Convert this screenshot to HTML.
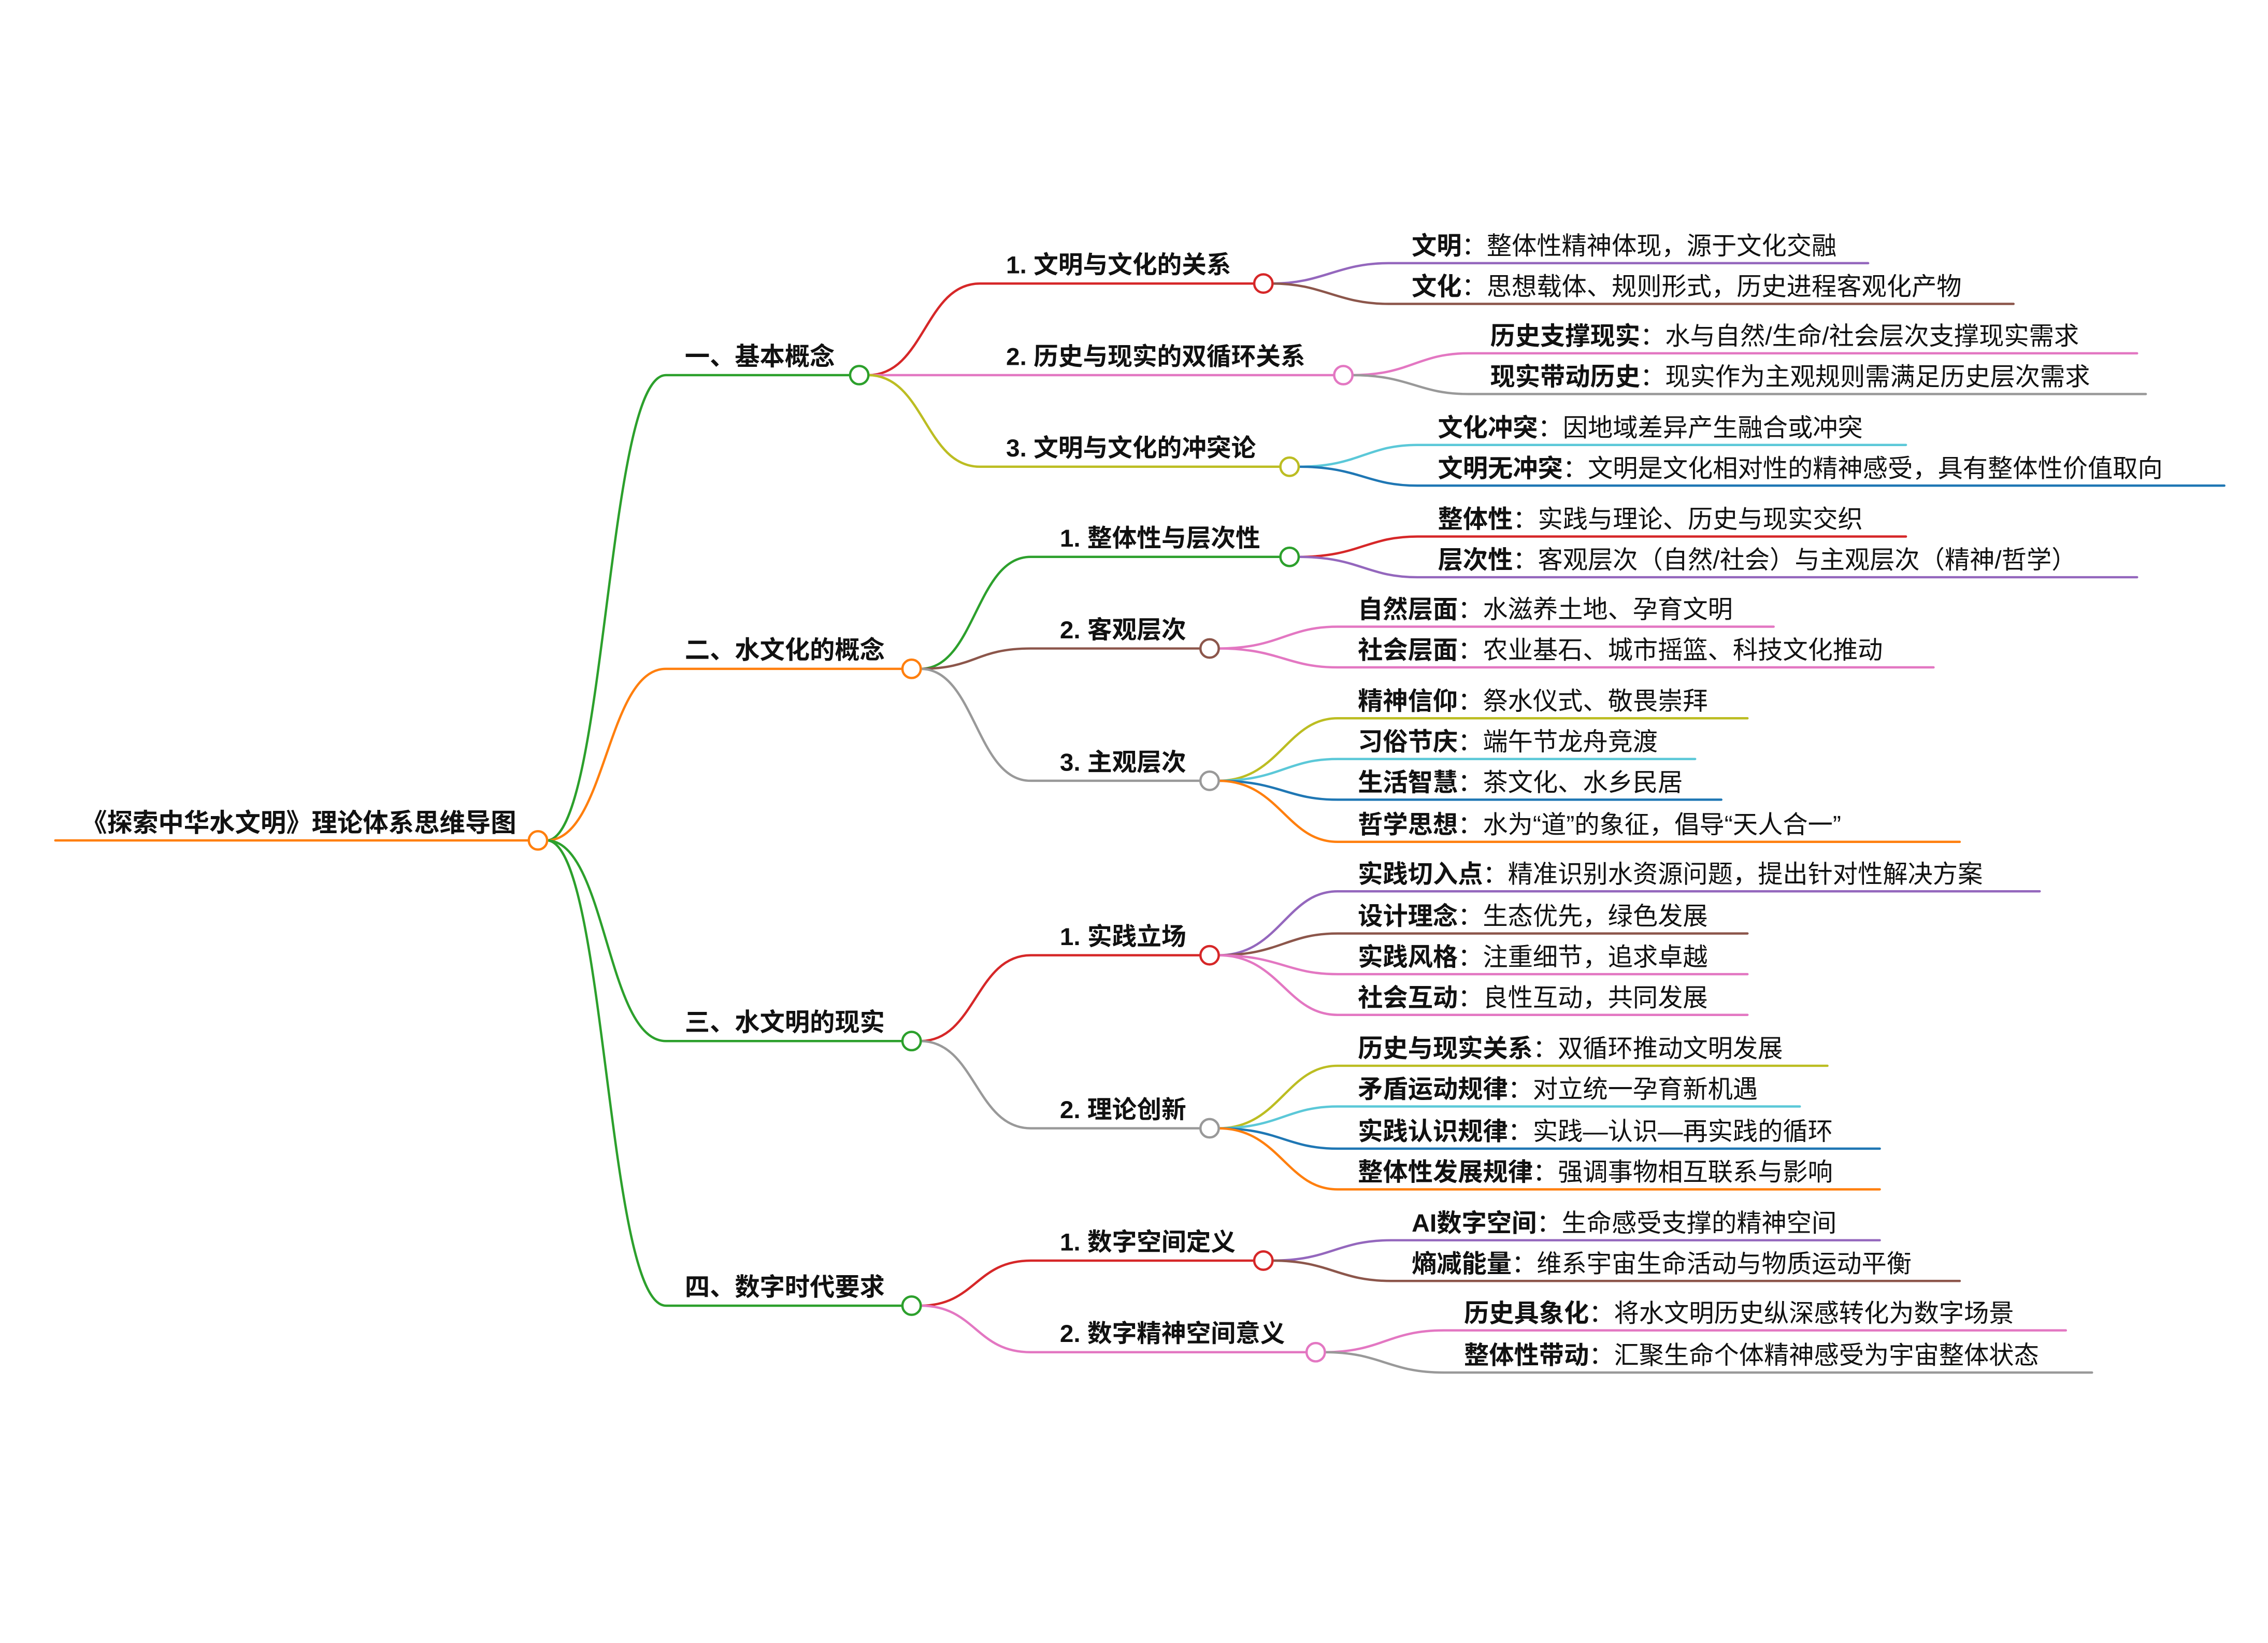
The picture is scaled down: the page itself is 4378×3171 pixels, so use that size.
<!DOCTYPE html>
<html><head><meta charset="utf-8"><style>
html,body{margin:0;padding:0;background:#fff;}
svg{display:block;}
text{font-family:"Liberation Sans","Noto Sans CJK SC",sans-serif;fill:#111;}
.l1{font-size:17.2px;font-weight:bold;}
.l2{font-size:17px;font-weight:bold;}
.lf{font-size:17.2px;}
.lf tspan.k{font-weight:bold;}
path{fill:none;stroke-width:1.6;stroke-linecap:round;}
circle{fill:#fff;stroke-width:1.6;}
</style></head><body>
<svg width="4378" height="3171" viewBox="0 0 1560 1130" xmlns="http://www.w3.org/2000/svg">
<path d="M38 578 H364" stroke="#ff7f0e"/>
<text class="l1" x="56" y="572" style="font-size:17.6px">《探索中华水文明》理论体系思维导图</text>
<path d="M376 578 C417 578 417 258 458 258 H585" stroke="#2ca02c"/>
<path d="M376 578 C417 578 417 460 458 460 H621" stroke="#ff7f0e"/>
<path d="M376 578 C417 578 417 716 458 716 H621" stroke="#2ca02c"/>
<path d="M376 578 C417 578 417 898 458 898 H621" stroke="#2ca02c"/>
<circle cx="370" cy="578" r="6.3" stroke="#ff7f0e"/>
<text class="l1" x="471" y="251">一、基本概念</text>
<text class="l1" x="471" y="453">二、水文化的概念</text>
<text class="l1" x="471" y="709">三、水文明的现实</text>
<text class="l1" x="471" y="891">四、数字时代要求</text>

<path d="M597 258 C636 258 636 195 674 195 H863" stroke="#d62728"/>
<path d="M597 258 H918" stroke="#e377c2"/>
<path d="M597 258 C636 258 636 321 674 321 H881" stroke="#bcbd22"/>
<path d="M633 460 C671 460 671 383 709 383 H881" stroke="#2ca02c"/>
<path d="M633 460 C671 460 671 446 709 446 H826" stroke="#8c564b"/>
<path d="M633 460 C671 460 671 537 709 537 H826" stroke="#999"/>
<path d="M633 716 C671 716 671 657 709 657 H826" stroke="#d62728"/>
<path d="M633 716 C671 716 671 776 709 776 H826" stroke="#999"/>
<path d="M633 898 C671 898 671 867 709 867 H863" stroke="#d62728"/>
<path d="M633 898 C671 898 671 930 709 930 H899" stroke="#e377c2"/>
<circle cx="591" cy="258" r="6.3" stroke="#2ca02c"/>
<circle cx="627" cy="460" r="6.3" stroke="#ff7f0e"/>
<circle cx="627" cy="716" r="6.3" stroke="#2ca02c"/>
<circle cx="627" cy="898" r="6.3" stroke="#2ca02c"/>
<text class="l2" x="692" y="188">1. 文明与文化的关系</text>
<text class="l2" x="692" y="251">2. 历史与现实的双循环关系</text>
<text class="l2" x="692" y="314">3. 文明与文化的冲突论</text>
<text class="l2" x="729" y="376">1. 整体性与层次性</text>
<text class="l2" x="729" y="439">2. 客观层次</text>
<text class="l2" x="729" y="530">3. 主观层次</text>
<text class="l2" x="729" y="650">1. 实践立场</text>
<text class="l2" x="729" y="769">2. 理论创新</text>
<text class="l2" x="729" y="860">1. 数字空间定义</text>
<text class="l2" x="729" y="923">2. 数字精神空间意义</text>

<path d="M875 195 C910 195 920 181 955 181 H1285" stroke="#9467bd"/>
<path d="M875 195 C910 195 920 209 955 209 H1385" stroke="#8c564b"/>
<path d="M930 258 C970 258 975 243 1010 243 H1470" stroke="#e377c2"/>
<path d="M930 258 C970 258 975 271 1010 271 H1476" stroke="#999"/>
<path d="M893 321 C935 321 940 306 975 306 H1311" stroke="#5bc8d8"/>
<path d="M893 321 C935 321 940 334 975 334 H1530" stroke="#1f77b4"/>
<path d="M893 383 C935 383 940 369 975 369 H1311" stroke="#d62728"/>
<path d="M893 383 C935 383 940 397 975 397 H1470" stroke="#9467bd"/>
<path d="M838 446 C880 446 885 431 920 431 H1220" stroke="#e377c2"/>
<path d="M838 446 C880 446 885 459 920 459 H1330" stroke="#e377c2"/>
<path d="M838 537 C880 537 885 494 920 494 H1202" stroke="#bcbd22"/>
<path d="M838 537 C880 537 885 522 920 522 H1166" stroke="#5bc8d8"/>
<path d="M838 537 C880 537 885 550 920 550 H1184" stroke="#1f77b4"/>
<path d="M838 537 C880 537 885 579 920 579 H1348" stroke="#ff7f0e"/>
<path d="M838 657 C880 657 885 613 920 613 H1403" stroke="#9467bd"/>
<path d="M838 657 C880 657 885 642 920 642 H1202" stroke="#8c564b"/>
<path d="M838 657 C880 657 885 670 920 670 H1202" stroke="#e377c2"/>
<path d="M838 657 C880 657 885 698 920 698 H1202" stroke="#e377c2"/>
<path d="M838 776 C880 776 885 733 920 733 H1257" stroke="#bcbd22"/>
<path d="M838 776 C880 776 885 761 920 761 H1238" stroke="#5bc8d8"/>
<path d="M838 776 C880 776 885 790 920 790 H1293" stroke="#1f77b4"/>
<path d="M838 776 C880 776 885 818 920 818 H1293" stroke="#ff7f0e"/>
<path d="M875 867 C915 867 920 853 957 853 H1293" stroke="#9467bd"/>
<path d="M875 867 C915 867 920 881 957 881 H1348" stroke="#8c564b"/>
<path d="M911 930 C950 930 955 915 993 915 H1421" stroke="#e377c2"/>
<path d="M911 930 C950 930 955 944 993 944 H1439" stroke="#999"/>

<circle cx="869" cy="195" r="6.3" stroke="#d62728"/>
<circle cx="924" cy="258" r="6.3" stroke="#e377c2"/>
<circle cx="887" cy="321" r="6.3" stroke="#bcbd22"/>
<circle cx="887" cy="383" r="6.3" stroke="#2ca02c"/>
<circle cx="832" cy="446" r="6.3" stroke="#8c564b"/>
<circle cx="832" cy="537" r="6.3" stroke="#999"/>
<circle cx="832" cy="657" r="6.3" stroke="#d62728"/>
<circle cx="832" cy="776" r="6.3" stroke="#999"/>
<circle cx="869" cy="867" r="6.3" stroke="#d62728"/>
<circle cx="905" cy="930" r="6.3" stroke="#e377c2"/>

<text class="lf" x="971" y="175"><tspan class="k">文明</tspan>：整体性精神体现，源于文化交融</text>
<text class="lf" x="971" y="203"><tspan class="k">文化</tspan>：思想载体、规则形式，历史进程客观化产物</text>
<text class="lf" x="1025" y="237"><tspan class="k">历史支撑现实</tspan>：水与自然/生命/社会层次支撑现实需求</text>
<text class="lf" x="1025" y="265"><tspan class="k">现实带动历史</tspan>：现实作为主观规则需满足历史层次需求</text>
<text class="lf" x="989" y="300"><tspan class="k">文化冲突</tspan>：因地域差异产生融合或冲突</text>
<text class="lf" x="989" y="328"><tspan class="k">文明无冲突</tspan>：文明是文化相对性的精神感受，具有整体性价值取向</text>
<text class="lf" x="989" y="363"><tspan class="k">整体性</tspan>：实践与理论、历史与现实交织</text>
<text class="lf" x="989" y="391"><tspan class="k">层次性</tspan>：客观层次（自然/社会）与主观层次（精神/哲学）</text>
<text class="lf" x="934" y="425"><tspan class="k">自然层面</tspan>：水滋养土地、孕育文明</text>
<text class="lf" x="934" y="453"><tspan class="k">社会层面</tspan>：农业基石、城市摇篮、科技文化推动</text>
<text class="lf" x="934" y="488"><tspan class="k">精神信仰</tspan>：祭水仪式、敬畏崇拜</text>
<text class="lf" x="934" y="516"><tspan class="k">习俗节庆</tspan>：端午节龙舟竞渡</text>
<text class="lf" x="934" y="544"><tspan class="k">生活智慧</tspan>：茶文化、水乡民居</text>
<text class="lf" x="934" y="573"><tspan class="k">哲学思想</tspan>：水为“道”的象征，倡导“天人合一”</text>
<text class="lf" x="934" y="607"><tspan class="k">实践切入点</tspan>：精准识别水资源问题，提出针对性解决方案</text>
<text class="lf" x="934" y="636"><tspan class="k">设计理念</tspan>：生态优先，绿色发展</text>
<text class="lf" x="934" y="664"><tspan class="k">实践风格</tspan>：注重细节，追求卓越</text>
<text class="lf" x="934" y="692"><tspan class="k">社会互动</tspan>：良性互动，共同发展</text>
<text class="lf" x="934" y="727"><tspan class="k">历史与现实关系</tspan>：双循环推动文明发展</text>
<text class="lf" x="934" y="755"><tspan class="k">矛盾运动规律</tspan>：对立统一孕育新机遇</text>
<text class="lf" x="934" y="784"><tspan class="k">实践认识规律</tspan>：实践—认识—再实践的循环</text>
<text class="lf" x="934" y="812"><tspan class="k">整体性发展规律</tspan>：强调事物相互联系与影响</text>
<text class="lf" x="971" y="847"><tspan class="k">AI数字空间</tspan>：生命感受支撑的精神空间</text>
<text class="lf" x="971" y="875"><tspan class="k">熵减能量</tspan>：维系宇宙生命活动与物质运动平衡</text>
<text class="lf" x="1007" y="909"><tspan class="k">历史具象化</tspan>：将水文明历史纵深感转化为数字场景</text>
<text class="lf" x="1007" y="938"><tspan class="k">整体性带动</tspan>：汇聚生命个体精神感受为宇宙整体状态</text>
</svg>
</body></html>
